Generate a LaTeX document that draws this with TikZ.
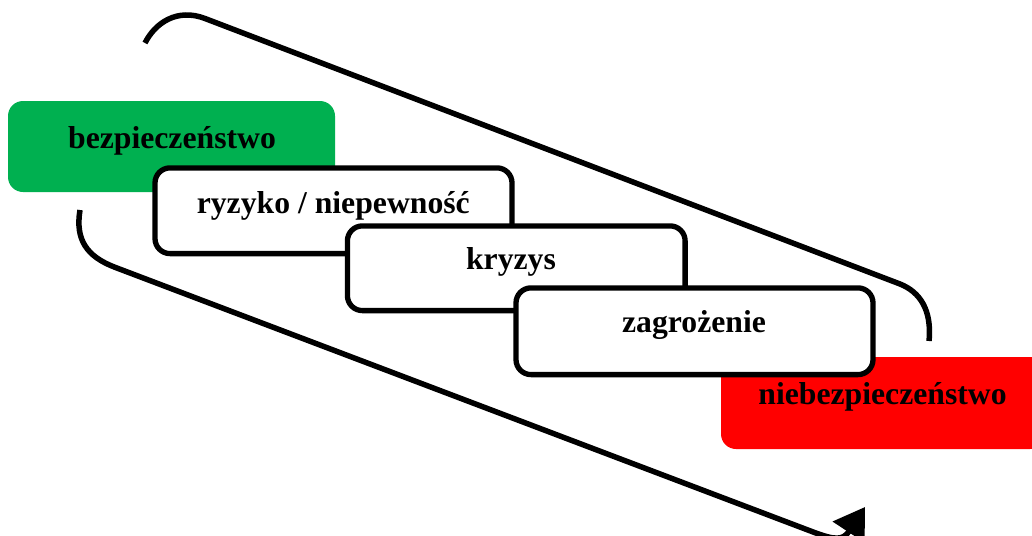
\documentclass[tikz,border=0pt]{standalone}
\usepackage{fontspec}
\setmainfont{Liberation Serif}
\usetikzlibrary{arrows.meta}
\definecolor{safegreen}{HTML}{00B050}
\definecolor{dangerred}{HTML}{FF0000}
\begin{document}
\begin{tikzpicture}[x=1pt,y=-1pt,
  stage/.style={draw=black, line width=5.3pt, fill=white, rounded corners=15pt, inner sep=0pt, outer sep=0pt},
  endbox/.style={rounded corners=15pt, inner sep=0pt, outer sep=0pt},
  lbl/.style={anchor=base, font=\fontsize{31.7}{38}\selectfont\bfseries, inner sep=0pt},
  flow/.style={line width=5.5pt, draw=black}]
\useasboundingbox (0,0) rectangle (1032,535);
\clip (0,0) rectangle (1032,535);
% end states
\node[endbox, fill=safegreen, minimum width=327pt, minimum height=91pt] (safe) at (171.5,146.5) {};
\node[endbox, fill=dangerred, minimum width=324pt, minimum height=92pt] (danger) at (883,403) {};
% intermediate stages
\node[stage, minimum width=357pt, minimum height=85.7pt] (risk) at (333.5,210.75) {};
\node[stage, minimum width=337.7pt, minimum height=84.7pt] (crisis) at (516.25,268.25) {};
\node[stage, minimum width=357pt, minimum height=86.7pt] (threat) at (694.5,331.25) {};
% labels
\node[lbl] (tsafe) at (172,148) {bezpieczeństwo};
\node[lbl] (trisk) at (333.3,213.3) {ryzyko / niepewność};
\node[lbl] (tcrisis) at (511,269.7) {kryzys};
\node[lbl] (tthreat) at (694,332.7) {zagrożenie};
\node[lbl] (tdanger) at (882.5,404) {niebezpieczeństwo};
% cycle arcs
\coordinate (a1) at (145,43);
\coordinate (a2) at (205,18.5);
\coordinate (a3) at (900,284);
\coordinate (a4) at (929,341);
\draw[flow] (a1) .. controls (155,23) and (177,7.8) .. (a2) -- (a3)
  .. controls (920,292) and (932,310) .. (a4);
\coordinate (b1) at (80,210);
\coordinate (b2) at (115,267.3);
\coordinate (b3) at (815,532.7);
\coordinate (b4) at (865,507);
\draw[flow, -{Triangle[length=30pt,width=37pt]}] (b1) .. controls (75,240) and (87,256.6) .. (b2) -- (b3)
  .. controls (835,540) and (843,540.5) .. (b4);
\end{tikzpicture}
\end{document}
